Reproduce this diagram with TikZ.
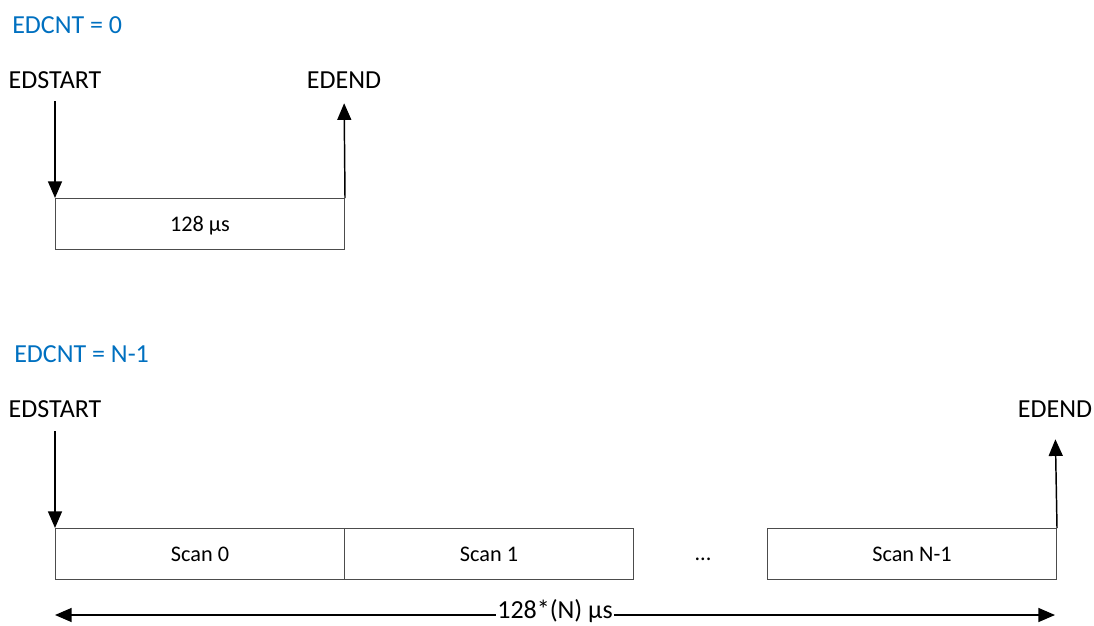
\documentclass[tikz,border=0pt]{standalone}
\usepackage{fontspec}
\setmainfont{Carlito}
\usetikzlibrary{arrows.meta}

\definecolor{cntblue}{RGB}{0,112,192}

\newcommand*{\pw}{1094}
\newcommand*{\ph}{625}
\newcommand*{\slotw}{216.75pt}
\newcommand*{\sloth}{38.25pt}

\begin{document}
\begin{tikzpicture}
[
	x=0.75pt, y=-0.75pt,
	big/.style={font=\fontsize{19.5}{23}\selectfont},
	small/.style={font=\fontsize{16.7}{20}\selectfont},
	cnt/.style={big,text=cntblue,anchor=base west,inner sep=0pt},
	evt/.style={big,anchor=base,inner sep=0pt},
	slot/.style={small,draw=black!70,line width=0.75pt,minimum width=\slotw,minimum height=\sloth,anchor=north west,inner sep=0pt,text depth=0pt},
	sig/.style={line width=1.1pt,-{Triangle[length=12.5pt,width=10.5pt]}}
]

	\useasboundingbox (0,0) rectangle (\pw,\ph);

	% single scan
	\node[cnt] (cntA) at (12,33) {EDCNT = 0};
	\node[evt] (startA) at (55,88) {EDSTART};
	\node[evt] (endA) at (344,88) {EDEND};
	\node[slot] (slotA) at (55,198) {128 µs};
	\draw[sig,shorten <=9.75pt] (startA.south) -- (slotA.north west);
	\draw[sig,shorten >=11.25pt] (slotA.north east) -- (endA.south);

	% N scans
	\node[cnt] (cntB) at (14,362) {EDCNT = N-1};
	\node[evt] (startB) at (55,417) {EDSTART};
	\node[evt] (endB) at (1055,417) {EDEND};
	\foreach \xo/\nm/\txt in {55/scanA/Scan 0,344/scanB/Scan 1,767/scanN/Scan N-1} {
		\node[slot] (\nm) at (\xo,528) {\txt};
	}
	\node[small,anchor=base] (dots) at (703,560) {...};
	\draw[sig,shorten <=10.5pt] (startB.south) -- (scanA.north west);
	\draw[sig,shorten >=16.5pt] (scanN.north east) -- (endB.south);

	% total duration
	\coordinate (spanL) at (55,615);
	\coordinate (spanR) at (1055,615);
	\draw[line width=1.1pt,{Triangle[length=12.5pt,width=10.5pt]}-{Triangle[length=12.5pt,width=10.5pt]}] (spanL) -- node[big,fill=white,inner xsep=1pt,inner ysep=0pt,anchor=mid] (span) {128*(N) µs} (spanR);

\end{tikzpicture}
\end{document}
